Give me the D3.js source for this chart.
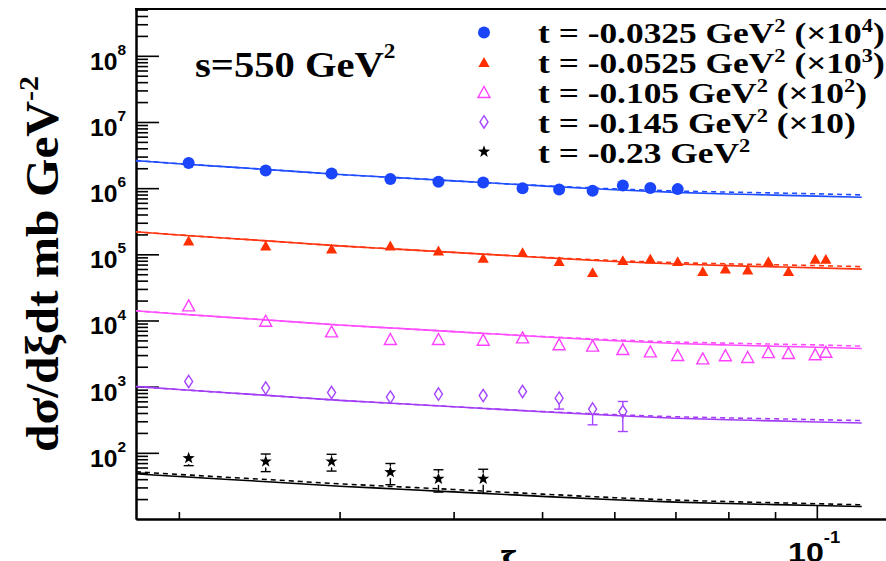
<!DOCTYPE html>
<html>
<head>
<meta charset="utf-8">
<script src="https://cdn.jsdelivr.net/npm/d3@7"></script>
<style>
  body { margin: 0; background: #fff; }
  text { white-space: pre; }
</style>
</head>
<body>
<svg id="chart" width="886" height="561"></svg>
<script>
// ---- measured points: bin centres in ξ ----
const xiPoints = [0.0205, 0.0249, 0.0294, 0.0341, 0.0385, 0.0431, 0.0476, 0.0522, 0.0568, 0.0613,
                  0.0657, 0.0704, 0.0750, 0.0794, 0.0840, 0.0885, 0.0931, 0.0996, 0.1023];

// dσ/dξdt in mb GeV^-2 for each t bin (before the display factor)
const sigmaT0325 = [239.1, 184.2, 166.5, 137.0, 124.7, 121.7, 99.5, 95.1, 91.2, 109.3, 100.2, 96.7];
const sigmaT0525 = [160, 134.5, 121, 134.5, 113, 87.7, 106.5, 77.9, 53.1, 80.7, 85.5, 77.9, 55.0,
                    60.4, 58.4, 77.9, 55.0, 84.7, 84.7];
const sigmaT105  = [168.5, 98.9, 68.2, 52.3, 52.3, 51.1, 55.3, 43.7, 41.5, 36.9, 34.0, 30.0, 26.7,
                    29.8, 28.0, 33.1, 32.2, 30.8, 33.6];
const sigmaT145  = [119.7, 95.1, 81.6, 69.5, 77.2, 73.5, 84.5, 67.1, 45.8, 42.1];
const errLoT145  = [4, 3.5, 3, 3, 3, 3, 3.5, 21.3, 19.3, 21.1];
const errHiT145  = [4, 3.5, 3, 3, 3, 3, 3.5, 12, 9, 17.6];
const sigmaT23   = [83, 74, 74, 51, 40.5, 40.5];
const errT23     = [19, 22, 21, 18, 15, 16];

// display factors for the t bins
const factors = [1e4, 1e3, 1e2, 10, 1];

// ---- model curves (solid and dashed), sampled in ξ ----
const xiCurve = [0.01795, 0.02, 0.025, 0.03, 0.035, 0.04, 0.045, 0.05, 0.06, 0.07, 0.08, 0.09, 0.1, 0.112];
const curveT0325 = [260.8, 234.3, 191.2, 160.9, 143.0, 129.0, 117.5, 108.1, 94.5, 86.4, 81.8, 78.5, 75.8, 72.7];
const dashT0325  = [260.8, 234.3, 191.2, 160.9, 143.0, 129.0, 117.5, 109.2, 97.5, 90.7, 87.1, 84.5, 82.1, 79.0];
const curveT0525 = [218.9, 196.4, 159.7, 134.0, 118.9, 107.0, 97.4, 89.5, 78.1, 71.3, 67.4, 64.6, 62.4, 59.8];
const dashT0525  = [218.9, 196.4, 159.7, 134.0, 118.9, 107.0, 97.4, 90.4, 80.6, 74.9, 71.8, 69.5, 67.6, 65.0];
const curveT105  = [140.1, 125.5, 101.8, 85.3, 75.6, 68.0, 61.8, 56.7, 49.4, 45.0, 42.6, 40.8, 39.4, 37.7];
const dashT105   = [140.1, 125.5, 101.8, 85.3, 75.6, 68.0, 61.8, 57.3, 51.0, 47.3, 45.4, 43.9, 42.7, 41.0];
const curveT145  = [100.6, 90.4, 73.8, 62.1, 55.3, 49.8, 45.4, 41.8, 36.6, 33.4, 31.6, 30.4, 29.3, 28.2];
const dashT145   = [100.6, 90.4, 73.8, 62.1, 55.3, 49.8, 45.4, 42.2, 37.8, 35.1, 33.7, 32.7, 31.7, 30.7];
const curveT23   = [48.2, 43.8, 36.6, 31.3, 28.2, 25.7, 23.7, 22.0, 19.5, 18.0, 17.15, 16.5, 16.0, 15.45];
const dashT23    = [51.7, 47.1, 39.5, 34.0, 30.6, 27.9, 25.6, 23.8, 21.0, 19.3, 18.3, 17.6, 17.0, 16.4];

// ---- axis ticks ----
const yMajorTicks = [1e2, 1e3, 1e4, 1e5, 1e6, 1e7, 1e8];
const yLabelExps  = ["2", "3", "4", "5", "6", "7", "8"];
const xMinorTicks = [0.02, 0.03, 0.04, 0.05, 0.06, 0.07, 0.08, 0.09];
const xMajorTicks = [0.1];

const legendLabels = [
  [["t = -0.0325 GeV", 0], ["2", 1], [" (\u00d710", 0], ["4", 1], [")", 0]],
  [["t = -0.0525 GeV", 0], ["2", 1], [" (\u00d710", 0], ["3", 1], [")", 0]],
  [["t = -0.105 GeV", 0], ["2", 1], [" (\u00d710", 0], ["2", 1], [")", 0]],
  [["t = -0.145 GeV", 0], ["2", 1], [" (\u00d710)", 0]],
  [["t = -0.23 GeV", 0], ["2", 1]]
];

// ---------------------------------------------------------------
const svg = d3.select("#chart");
const frameLeft = 136, frameTop = 9, frameBottom = 519;

const x = d3.scaleLog().domain([0.01795, 0.125])
  .range([frameLeft, frameLeft + 912.7 * Math.log10(0.125 / 0.01795)]);
const y = d3.scaleLog().domain([10, 5.1e8]).range([frameBottom, frameTop]);

const serif = "'Liberation Serif', 'Times New Roman', serif";
const sans = "'Liberation Sans', Arial, Helvetica, sans-serif";

// text made of plain and superscript pieces
function richText(sel, parts, supSize, raise) {
  let cur = 0;
  parts.forEach(([t, sup]) => {
    const ts = sel.append("tspan").text(t);
    const target = sup ? -raise : 0;
    if (target !== cur) ts.attr("dy", target - cur);
    cur = target;
    if (sup) ts.attr("font-size", supSize);
  });
}

svg.append("defs").append("clipPath").attr("id", "plotClip")
  .append("rect").attr("x", frameLeft).attr("y", frameTop)
  .attr("width", x.range()[1] - frameLeft).attr("height", frameBottom - frameTop);

// ---- axes ----
const yMinor = [];
for (let e = 1; e <= 8; e++) for (let m = 2; m <= 9; m++) {
  const v = m * Math.pow(10, e);
  if (v < 5.1e8) yMinor.push(v);
}

const axisStyle = g => {
  g.selectAll("path.domain").attr("stroke", "#000").attr("stroke-width", 2);
  g.selectAll(".tick line").attr("stroke", "#000").attr("stroke-width", 1.6);
};

svg.append("g").attr("transform", `translate(${frameLeft},0)`)
  .call(d3.axisLeft(y).tickValues(yMinor).tickSizeInner(-12).tickSizeOuter(0).tickFormat(""))
  .call(axisStyle);
svg.append("g").attr("transform", `translate(${frameLeft},0)`)
  .call(d3.axisLeft(y).tickValues(yMajorTicks).tickSizeInner(-23).tickSizeOuter(0).tickFormat(""))
  .call(axisStyle);

svg.append("g").attr("transform", `translate(0,${frameBottom})`)
  .call(d3.axisBottom(x).tickValues(xMinorTicks).tickSizeInner(-7).tickSizeOuter(0).tickFormat(""))
  .call(axisStyle);
svg.append("g").attr("transform", `translate(0,${frameBottom})`)
  .call(d3.axisBottom(x).tickValues(xMajorTicks).tickSizeInner(-14).tickSizeOuter(0).tickFormat(""))
  .call(axisStyle);

// top edge of the frame
svg.append("line").attr("x1", frameLeft - 1).attr("x2", 900).attr("y1", frameTop).attr("y2", frameTop)
  .attr("stroke", "#000").attr("stroke-width", 2);

// y tick labels 10^n
yMajorTicks.forEach((v, i) => {
  const t = svg.append("g").attr("transform", `translate(126,${y(v) + 14}) scale(1.03,1)`)
    .append("text").attr("text-anchor", "end")
    .attr("font-family", sans).attr("font-weight", "bold").attr("font-size", 24).attr("fill", "#000");
  richText(t, [["10", 0], [yLabelExps[i], 1]], 15, 15);
});

// x tick label 10^-1
{
  const t = svg.append("g").attr("transform", `translate(788,562) scale(1.15,1)`)
    .append("text").attr("font-family", sans).attr("font-weight", "bold")
    .attr("font-size", 28).attr("fill", "#000");
  richText(t, [["10", 0], ["-1", 1]], 16, 19);
}

// axis titles
svg.append("text").attr("x", 508).attr("y", 580).attr("text-anchor", "middle")
  .attr("font-family", serif).attr("font-weight", "bold").attr("font-size", 42).text("\u03be");

{
  const t = svg.append("g").attr("transform", "translate(58,264) rotate(-90) scale(1.075,1)")
    .append("text").attr("text-anchor", "middle")
    .attr("font-family", serif).attr("font-weight", "bold").attr("font-size", 46).attr("fill", "#000");
  richText(t, [["d\u03c3/d\u03bedt mb GeV", 0], ["-2", 1]], 28, 20);
}

// energy label
{
  const t = svg.append("g").attr("transform", "translate(195,77) scale(1.16,1)")
    .append("text").attr("font-family", serif).attr("font-weight", "bold")
    .attr("font-size", 35).attr("fill", "#000");
  richText(t, [["s=550 GeV", 0], ["2", 1]], 20, 19);
}

// ---- markers ----
const markers = {
  circle:  { path: "M6,0A6,6 0 1,1 -6,0A6,6 0 1,1 6,0Z", fill: true, half: 6 },
  tri:     { path: "M0,-5.2L5.6,4.6L-5.6,4.6Z", fill: true, half: 5 },
  openTri: { path: "M0,-5.6L6,5.4L-6,5.4Z", fill: false, half: 5.5 },
  diamond: { path: "M0,-6.2L4,0L0,6.2L-4,0Z", fill: false, half: 6.2 },
  star: {
    path: (() => {
      const pts = [];
      for (let k = 0; k < 10; k++) {
        const r = k % 2 === 0 ? 6.4 : 2.6;
        const a = -Math.PI / 2 + k * Math.PI / 5;
        pts.push([r * Math.cos(a), r * Math.sin(a)]);
      }
      return "M" + pts.map(p => p.join(",")).join("L") + "Z";
    })(),
    fill: true, half: 6
  }
};

const series = [
  { vals: sigmaT0325, factor: factors[0], color: "#1a45fa", line: "#1e4cff", marker: "circle",
    solid: curveT0325, dashed: dashT0325 },
  { vals: sigmaT0525, factor: factors[1], color: "#ff2f00", line: "#ff3511", marker: "tri",
    solid: curveT0525, dashed: dashT0525 },
  { vals: sigmaT105, factor: factors[2], color: "#ff40ff", line: "#ff4cff", marker: "openTri",
    solid: curveT105, dashed: dashT105 },
  { vals: sigmaT145, factor: factors[3], color: "#a544ff", line: "#a23cf6", marker: "diamond",
    solid: curveT145, dashed: dashT145, errLo: errLoT145, errHi: errHiT145 },
  { vals: sigmaT23, factor: factors[4], color: "#000000", line: "#000000", marker: "star",
    solid: curveT23, dashed: dashT23, errLo: errT23, errHi: errT23 }
];

const plot = svg.append("g").attr("clip-path", "url(#plotClip)");

const lineGen = factor => d3.line()
  .x(d => x(d[0])).y(d => y(d[1] * factor))
  .curve(d3.curveMonotoneX);

series.forEach(s => {
  const solidPts = xiCurve.map((xi, i) => [xi, s.solid[i]]);
  const dashPts = xiCurve.map((xi, i) => [xi, s.dashed[i]]);
  plot.append("path").attr("d", lineGen(s.factor)(solidPts))
    .attr("fill", "none").attr("stroke", s.line).attr("stroke-width", 1.6);
  plot.append("path").attr("d", lineGen(s.factor)(dashPts))
    .attr("fill", "none").attr("stroke", s.line).attr("stroke-width", 1.6)
    .attr("stroke-dasharray", "5,4");
});

function drawMarker(g, type, color, cx, cy) {
  const m = markers[type];
  g.append("path").attr("d", m.path)
    .attr("transform", `translate(${cx},${cy})`)
    .attr("fill", m.fill ? color : "none")
    .attr("stroke", m.fill ? "none" : color)
    .attr("stroke-width", m.fill ? 0 : 1.4);
}

series.forEach(s => {
  const m = markers[s.marker];
  s.vals.forEach((v, i) => {
    const cx = x(xiPoints[i]);
    const cy = y(v * s.factor);
    if (s.errLo) {
      const yl = y((v - s.errLo[i]) * s.factor);
      const yh = y((v + s.errHi[i]) * s.factor);
      const eg = plot.append("g").attr("stroke", s.color).attr("stroke-width", 1.4);
      if (yl - cy > m.half) {
        eg.append("line").attr("x1", cx).attr("x2", cx).attr("y1", cy + m.half).attr("y2", yl);
        eg.append("line").attr("x1", cx - 5).attr("x2", cx + 5).attr("y1", yl).attr("y2", yl);
      }
      if (cy - yh > m.half) {
        eg.append("line").attr("x1", cx).attr("x2", cx).attr("y1", cy - m.half).attr("y2", yh);
        eg.append("line").attr("x1", cx - 5).attr("x2", cx + 5).attr("y1", yh).attr("y2", yh);
      }
    }
    drawMarker(plot, s.marker, s.color, cx, cy);
  });
});

// ---- legend ----
legendLabels.forEach((parts, i) => {
  const base = 43.3 + i * 29.8;
  drawMarker(svg, series[i].marker, series[i].color, 484, base - 10.8);
  const t = svg.append("g").attr("transform", `translate(538,${base}) scale(1.18,1)`)
    .append("text").attr("font-family", serif).attr("font-weight", "bold")
    .attr("font-size", 30).attr("fill", "#000");
  richText(t, parts, 19, 11);
});
</script>
</body>
</html>
